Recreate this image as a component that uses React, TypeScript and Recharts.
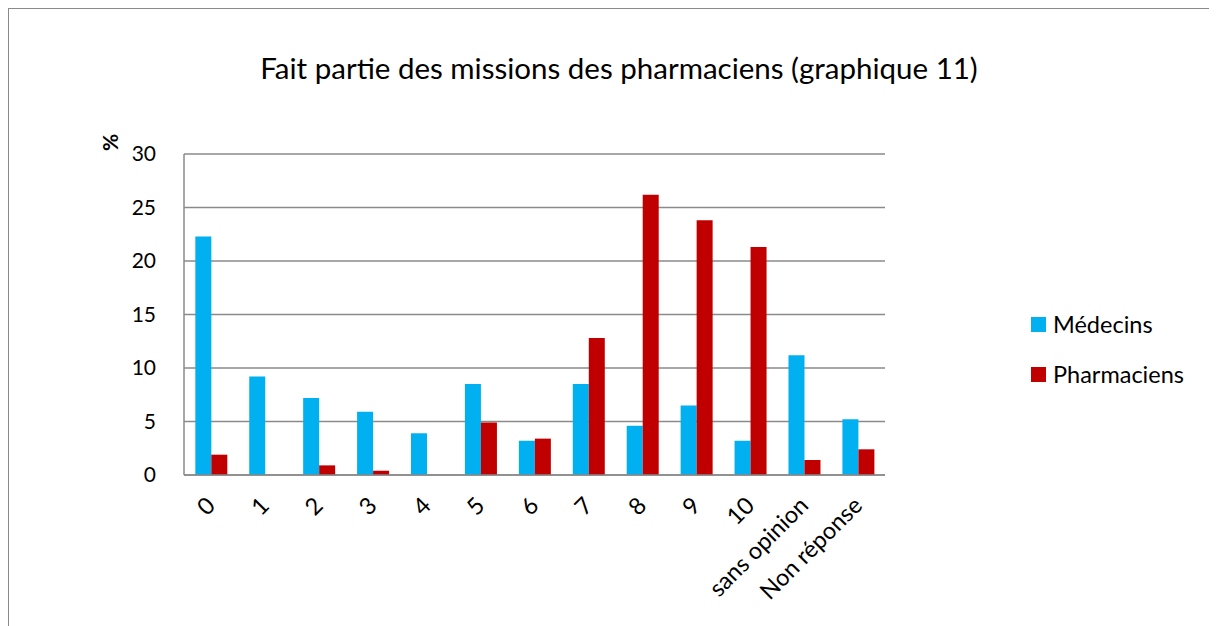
import { Bar, BarChart, CartesianGrid, XAxis, YAxis } from "recharts";

const categories = ["0", "1", "2", "3", "4", "5", "6", "7", "8", "9", "10", "sans opinion", "Non réponse"];
const medecins = [22.3, 9.2, 7.2, 5.9, 3.9, 8.5, 3.2, 8.5, 4.6, 6.5, 3.2, 11.2, 5.2];
const pharmaciens = [1.9, 0, 0.9, 0.4, 0, 4.9, 3.4, 12.8, 26.2, 23.8, 21.3, 1.4, 2.4];
const yTicks = [0, 5, 10, 15, 20, 25, 30];

const data = categories.map((c, i) => ({
  name: c,
  medecins: medecins[i],
  pharmaciens: pharmaciens[i],
}));

const FONT = "Lato, 'Open Sans', sans-serif";
const GRID = "#8a8a8a";

const RotatedTick = ({ x, y, payload }: any) => (
  <g transform={`translate(${x},${y})`}>
    <text
      x={-13}
      y={21}
      textAnchor="end"
      transform="rotate(-45)"
      fontSize={23.5}
      fontFamily={FONT}
      fill="#000"
    >
      {payload.value}
    </text>
  </g>
);

const legendItems = [
  { label: "Médecins", color: "#00B0F0" },
  { label: "Pharmaciens", color: "#C00000" },
];

export default function App() {
  return (
    <div
      style={{
        position: "relative",
        width: 1205,
        height: 640,
        border: `1px solid ${GRID}`,
        boxSizing: "border-box",
        fontFamily: FONT,
      }}
    >
      <div
        style={{
          position: "absolute",
          top: 41,
          left: 0,
          width: 1220,
          textAlign: "center",
          fontSize: 29.5,
          color: "#000",
        }}
      >
        Fait partie des missions des pharmaciens (graphique 11)
      </div>
      <div
        style={{
          position: "absolute",
          left: 92,
          top: 121,
          fontSize: 21,
          fontWeight: "bold",
          transform: "rotate(-90deg)",
        }}
      >
        %
      </div>
      <div
        style={{
          position: "absolute",
          left: 1022,
          top: 290,
          fontSize: 23.5,
          color: "#000",
        }}
      >
        {legendItems.map((it) => (
          <div key={it.label} style={{ display: "flex", alignItems: "center", height: 50 }}>
            <span style={{ width: 15, height: 15, background: it.color, marginRight: 7 }} />
            {it.label}
          </div>
        ))}
      </div>
      <BarChart
        width={1203}
        height={620}
        data={data}
        margin={{ top: 145, right: 327, bottom: 0, left: 100 }}
        barCategoryGap="21%"
        barGap={0}
      >
        <CartesianGrid vertical={false} stroke={GRID} strokeWidth={1.5} />
        <XAxis
          dataKey="name"
          height={154}
          interval={0}
          tickLine={false}
          axisLine={{ stroke: GRID, strokeWidth: 1.5 }}
          tick={<RotatedTick />}
        />
        <YAxis
          width={75}
          domain={[0, 30]}
          ticks={yTicks}
          tickLine={false}
          axisLine={{ stroke: GRID, strokeWidth: 1.5 }}
          tick={{ fontSize: 21, fontFamily: FONT, fill: "#000" }}
          tickMargin={22}
        />
        <Bar dataKey="medecins" name="Médecins" fill="#00B0F0" isAnimationActive={false} />
        <Bar dataKey="pharmaciens" name="Pharmaciens" fill="#C00000" isAnimationActive={false} />
      </BarChart>
    </div>
  );
}
